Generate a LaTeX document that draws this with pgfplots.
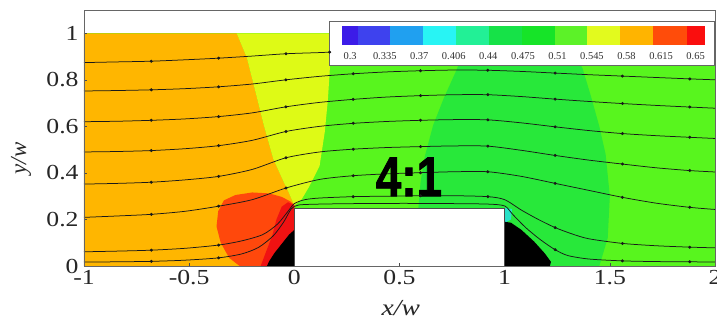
\documentclass[border=0pt]{standalone}
\usepackage{pgfplots}
\pgfplotsset{compat=1.18}
\usepackage{fontspec}
\setmainfont{Liberation Serif}
\newfontfamily\headfont[BoldFeatures={FakeBold=1.5}]{Liberation Sans}

% contour levels
\definecolor{fOrange}{RGB}{255,182,0}
\definecolor{fYellow}{RGB}{222,250,22}
\definecolor{fLime}{RGB}{88,245,30}
\definecolor{fGreen}{RGB}{40,232,58}
\definecolor{fRedOr}{RGB}{255,72,12}
\definecolor{fRed}{RGB}{240,18,18}
\definecolor{fAqua}{RGB}{40,225,200}
% colour key
\definecolor{k1}{RGB}{60,28,232}
\definecolor{k2}{RGB}{62,66,238}
\definecolor{k3}{RGB}{32,160,240}
\definecolor{k4}{RGB}{40,244,244}
\definecolor{k5}{RGB}{34,240,150}
\definecolor{k6}{RGB}{22,226,72}
\definecolor{k7}{RGB}{22,228,40}
\definecolor{k8}{RGB}{92,242,40}
\definecolor{k9}{RGB}{226,250,30}
\definecolor{k10}{RGB}{255,180,0}
\definecolor{k11}{RGB}{255,76,10}
\definecolor{k12}{RGB}{250,14,14}

\pgfplotsset{
  stream/.style={black!90, line width=0.75bp, smooth, tension=0.45,
    mark=*, mark size=1.1bp, mark options={fill=black!90, draw=none}},
}

\begin{document}
\begin{tikzpicture}
\begin{axis}[
  scale only axis, width=631bp, height=256bp,
  xmin=-1, xmax=2, ymin=0, ymax=1.1,
  xtick={-1,-0.5,0,0.5,1,1.5,2},
  ytick={0,0.2,0.4,0.6,0.8,1},
  tick pos=left, tick align=inside, major tick length=3bp,
  axis line style={black!60, line width=0.8bp},
  tick style={black!70, line width=0.6bp},
  /pgf/number format/assume math mode=true,
  tick label style={font=\fontsize{21.5}{23}\selectfont, black!85, xscale=1.2},
  xticklabel style={yshift=-1bp},
  yticklabel style={xshift=-1bp},
  xlabel={\textit{x/w}},
  ylabel={\textit{y/w}},
  label style={font=\fontsize{23}{25}\selectfont, black!85},
  xlabel style={at={(axis description cs:0.502,0)}, anchor=center, yshift=-42bp, xscale=1.2},
  ylabel style={at={(axis description cs:0,0.42)}, anchor=center, yshift=63bp},
  axis on top,
]
% background level
\addplot[fill=fLime, draw=none] coordinates {(-1,0) (2,0) (2,1) (-1,1)} --cycle;
% upstream high-value region
\addplot[fill=fOrange, draw=none] coordinates {(-1,0) (-1,1) (-0.274,1) (-0.226,0.896) (-0.185,0.75) (-0.145,0.605) (-0.1,0.46) (-0.05,0.36) (-0.027,0.317) (0,0.26) (0,0)} --cycle;
\addplot[fill=fYellow, draw=none] coordinates {(-0.274,1) (-0.226,0.896) (-0.185,0.75) (-0.145,0.605) (-0.1,0.46) (-0.05,0.36) (-0.027,0.317) (0,0.26) (0.035,0.287) (0.07,0.34) (0.12,0.43) (0.145,0.578) (0.16,0.72) (0.17,0.865) (0.18,1)} --cycle;
% bubble over the block
\addplot[fill=fGreen, draw=none] coordinates {(0.84,1) (0.77,0.84) (0.71,0.72) (0.66,0.605) (0.62,0.47) (0.60,0.36) (0.59,0.25) (1,0.25) (1,0) (1.45,0) (1.49,0.12) (1.50,0.3) (1.48,0.48) (1.45,0.6) (1.41,0.73) (1.37,0.85) (1.31,0.95) (1.28,1)} --cycle;
% stagnation region ahead of the block
\addplot[fill=fRedOr, draw=none] coordinates {(-0.37,0.17) (-0.362,0.235) (-0.335,0.282) (-0.28,0.305) (-0.2,0.316) (-0.12,0.312) (-0.06,0.297) (-0.02,0.278) (0,0.262) (0,0) (-0.26,0) (-0.31,0.035) (-0.35,0.1)} --cycle;
\addplot[fill=fRed, draw=none] coordinates {(0,0.262) (-0.03,0.274) (-0.06,0.255) (-0.085,0.2) (-0.105,0.13) (-0.135,0.06) (-0.16,0) (0,0)} --cycle;
% recirculation cores
\addplot[fill=black, draw=none] coordinates {(0,0) (0,0.155) (-0.025,0.135) (-0.06,0.095) (-0.095,0.055) (-0.12,0.02) (-0.13,0)} --cycle;
\addplot[fill=fAqua, draw=none] coordinates {(1,0.25) (1.035,0.245) (1.03,0.2) (1,0.185)} --cycle;
\addplot[fill=black, draw=none] coordinates {(1,0) (1,0.19) (1.03,0.186) (1.08,0.155) (1.14,0.105) (1.19,0.055) (1.22,0.018) (1.215,0)} --cycle;
% block
\addplot[fill=white, draw=black!70, line width=0.6bp] coordinates {(0,0) (0,0.25) (1,0.25) (1,0)} --cycle;

% streamlines (the top one runs on under the key)
\addplot[stream, mark repeat=2, mark phase=3] coordinates {(-1,0.874) (-0.84,0.877) (-0.68,0.880) (-0.52,0.886) (-0.36,0.893) (-0.2,0.902) (-0.04,0.912) (0.12,0.917) (0.168,0.919)};
\addplot[stream, mark repeat=2, mark phase=3] coordinates {(-1,0.752) (-0.84,0.754) (-0.68,0.757) (-0.52,0.762) (-0.36,0.770) (-0.2,0.782) (-0.04,0.800) (0.12,0.815) (0.28,0.826) (0.44,0.834) (0.6,0.839) (0.76,0.842) (0.92,0.841) (1.08,0.836) (1.24,0.829) (1.4,0.822) (1.56,0.816) (1.72,0.810) (1.88,0.804) (2,0.80)};
\addplot[stream, mark repeat=2, mark phase=3] coordinates {(-1,0.62) (-0.84,0.622) (-0.68,0.626) (-0.52,0.632) (-0.36,0.642) (-0.2,0.658) (-0.04,0.684) (0.12,0.703) (0.28,0.716) (0.44,0.726) (0.6,0.732) (0.76,0.736) (0.92,0.736) (1.08,0.728) (1.24,0.717) (1.4,0.707) (1.56,0.698) (1.72,0.69) (1.88,0.683) (2,0.678)};
\addplot[stream, mark repeat=2, mark phase=3] coordinates {(-1,0.49) (-0.84,0.492) (-0.68,0.496) (-0.52,0.504) (-0.36,0.517) (-0.2,0.540) (-0.04,0.578) (0.12,0.600) (0.28,0.613) (0.44,0.621) (0.6,0.626) (0.76,0.629) (0.92,0.628) (1.08,0.615) (1.24,0.598) (1.4,0.582) (1.56,0.569) (1.72,0.560) (1.88,0.553) (2,0.548)};
\addplot[stream, mark repeat=2, mark phase=3] coordinates {(-1,0.352) (-0.84,0.355) (-0.68,0.36) (-0.52,0.37) (-0.36,0.385) (-0.2,0.415) (-0.04,0.465) (0.12,0.49) (0.28,0.502) (0.44,0.509) (0.6,0.513) (0.76,0.516) (0.92,0.515) (1.08,0.497) (1.24,0.475) (1.4,0.455) (1.56,0.438) (1.72,0.422) (1.88,0.41) (2,0.404)};
\addplot[stream, mark repeat=2, mark phase=3] coordinates {(-1,0.209) (-0.84,0.215) (-0.68,0.222) (-0.52,0.235) (-0.36,0.257) (-0.2,0.285) (-0.04,0.335) (0.12,0.372) (0.28,0.388) (0.44,0.396) (0.6,0.401) (0.76,0.405) (0.92,0.405) (1.08,0.385) (1.24,0.355) (1.4,0.325) (1.56,0.295) (1.72,0.27) (1.88,0.252) (2,0.243)};
\addplot[stream, mark indices={3,5,13,15,17,21,24,26}] coordinates {(-1,0.061) (-0.84,0.064) (-0.68,0.068) (-0.52,0.076) (-0.36,0.09) (-0.25,0.108) (-0.15,0.135) (-0.08,0.18) (-0.03,0.235) (0,0.268) (0.05,0.285) (0.12,0.292) (0.28,0.298) (0.44,0.30) (0.6,0.302) (0.76,0.302) (0.92,0.298) (1.0,0.285) (1.08,0.24) (1.16,0.2) (1.24,0.165) (1.32,0.138) (1.4,0.117) (1.56,0.097) (1.72,0.087) (1.88,0.081) (2,0.078)};
\addplot[stream, mark indices={3,5,22,25,27}] coordinates {(-1,0.017) (-0.84,0.018) (-0.68,0.02) (-0.52,0.025) (-0.36,0.035) (-0.25,0.052) (-0.17,0.08) (-0.1,0.13) (-0.05,0.19) (-0.015,0.245) (0.02,0.262) (0.12,0.266) (0.28,0.268) (0.44,0.269) (0.6,0.269) (0.76,0.268) (0.92,0.266) (1.0,0.258) (1.04,0.22) (1.1,0.165) (1.17,0.113) (1.24,0.07) (1.3,0.045) (1.4,0.03) (1.56,0.022) (1.72,0.019) (1.88,0.018) (2,0.017)};

% aspect ratio tag
\node[font=\headfont\bfseries\fontsize{46}{46}\selectfont, yscale=1.22, inner sep=0pt] at (axis cs:0.545,0.383) {4:1};

% colour key
\draw[black!60, fill=white, line width=0.6bp] (axis cs:0.168,0.862) rectangle (axis cs:1.995,1.052);
\fill[k1]  (axis cs:0.225,0.948) rectangle (axis cs:0.302,1.030);
\fill[k2]  (axis cs:0.301,0.948) rectangle (axis cs:0.458,1.030);
\fill[k3]  (axis cs:0.457,0.948) rectangle (axis cs:0.614,1.030);
\fill[k4]  (axis cs:0.613,0.948) rectangle (axis cs:0.770,1.030);
\fill[k5]  (axis cs:0.769,0.948) rectangle (axis cs:0.926,1.030);
\fill[k6]  (axis cs:0.925,0.948) rectangle (axis cs:1.082,1.030);
\fill[k7]  (axis cs:1.081,0.948) rectangle (axis cs:1.238,1.030);
\fill[k8]  (axis cs:1.237,0.948) rectangle (axis cs:1.394,1.030);
\fill[k9]  (axis cs:1.393,0.948) rectangle (axis cs:1.550,1.030);
\fill[k10] (axis cs:1.549,0.948) rectangle (axis cs:1.706,1.030);
\fill[k11] (axis cs:1.705,0.948) rectangle (axis cs:1.866,1.030);
\fill[k12] (axis cs:1.865,0.948) rectangle (axis cs:1.951,1.030);
\begin{scope}[every node/.style={font=\fontsize{10.5}{11}\selectfont, black!80, inner sep=0pt}]
\node at (axis cs:0.265,0.902) {0.3};
\node at (axis cs:0.430,0.902) {0.335};
\node at (axis cs:0.594,0.902) {0.37};
\node at (axis cs:0.758,0.902) {0.406};
\node at (axis cs:0.922,0.902) {0.44};
\node at (axis cs:1.087,0.902) {0.475};
\node at (axis cs:1.251,0.902) {0.51};
\node at (axis cs:1.415,0.902) {0.545};
\node at (axis cs:1.579,0.902) {0.58};
\node at (axis cs:1.744,0.902) {0.615};
\node at (axis cs:1.908,0.902) {0.65};
\end{scope}

\coordinate (sw) at (rel axis cs:0,0);
\coordinate (ne) at (rel axis cs:1,1);
\end{axis}
\pgfresetboundingbox
\path ([xshift=-84bp,yshift=-56bp]sw) rectangle ([xshift=2bp,yshift=10bp]ne);
\end{tikzpicture}
\end{document}
